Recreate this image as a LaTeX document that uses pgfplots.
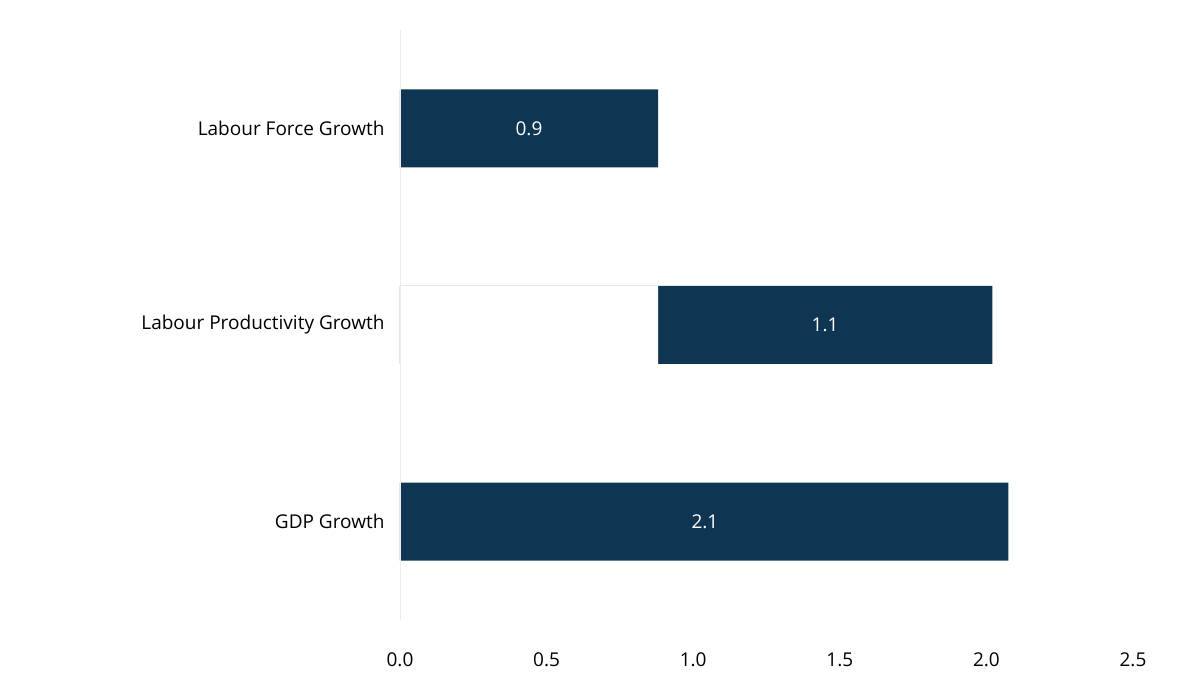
\documentclass[border=0pt]{standalone}
\usepackage{pgfplots}
\pgfplotsset{compat=1.18}
\usepackage{fontspec}
\setmainfont{Open Sans}
\definecolor{bar}{HTML}{0E3552}
\begin{document}
\begin{tikzpicture}[x=1pt,y=1pt]
\path[use as bounding box] (-400,-70) rectangle (800,620);
\begin{axis}[at={(0,0)},anchor=south west,scale only axis,width=733pt,height=590pt,
  xmin=0,xmax=2.5,ymin=-0.5,ymax=2.5,
  axis on top,
  axis x line=none,
  axis y line*=left, y axis line style={draw=gray!15},
  xtick={0,0.5,1,1.5,2,2.5},
  ytick={0,1,2}, yticklabels={GDP Growth,Labour Productivity Growth,Labour Force Growth},
  major tick length=0pt,
  yticklabel style={font=\fontsize{19}{22}\selectfont, xshift=-12pt},
  /pgf/number format/assume math mode=true,
  /pgf/number format/fixed,/pgf/number format/fixed zerofill,/pgf/number format/precision=1,
  bar width=78pt]
\addplot[xbar,bar shift=0pt,fill=bar,draw=none] coordinates {(2.075,0) (2.02,1) (0.88,2)};
\addplot[xbar,bar shift=0pt,fill=white,draw=none] coordinates {(0,0) (0.88,1) (0,2)};
\addplot[only marks,mark=none,point meta=explicit symbolic,nodes near coords,
  nodes near coords style={anchor=center,text=white,font=\fontsize{19}{22}\selectfont}]
  coordinates {(1.04,0)[2.1] (1.45,1)[1.1] (0.44,2)[0.9]};
\end{axis}
\foreach \v/\l in {0/0.0,0.5/0.5,1/1.0,1.5/1.5,2/2.0,2.5/2.5}
  \node[font=\fontsize{19}{22}\selectfont] at (\v*293.2,-40) {\l};
\end{tikzpicture}
\end{document}
